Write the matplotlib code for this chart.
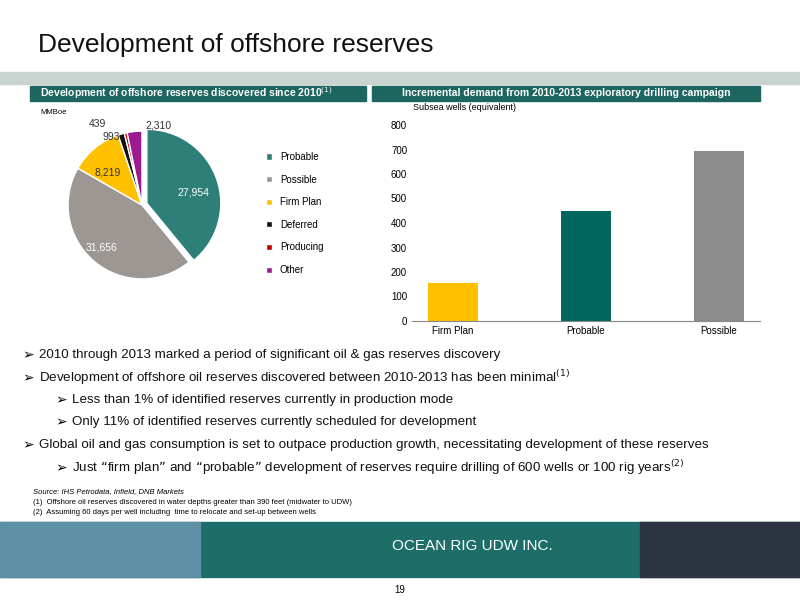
import matplotlib.pyplot as plt
from matplotlib.patches import Rectangle

plt.rcParams["font.family"] = ["Liberation Sans", "DejaVu Sans"]

# pie data (MMBoe)
pie_labels = ["Probable", "Possible", "Firm Plan", "Deferred", "Producing", "Other"]
pie_values = [27954, 31656, 8219, 993, 439, 2310]
pie_colors = ["#2f7f79", "#9d9794", "#ffc000", "#111111", "#c00000", "#9b1a8f"]

# bar data (subsea wells)
bar_cats = ["Firm Plan", "Probable", "Possible"]
bar_values = [155, 450, 695]
bar_colors = ["#ffc000", "#00665e", "#8c8c8c"]

W, H = 800, 600
fig = plt.figure(figsize=(8, 6), dpi=100)
fig.patch.set_facecolor("white")


def px(x, y, w, h):
    # pixel box (top-left origin) -> figure fraction
    return [x / W, 1 - (y + h) / H, w / W, h / H]


bg = fig.add_axes([0, 0, 1, 1])
bg.set_xlim(0, W)
bg.set_ylim(H, 0)
bg.axis("off")

bg.text(38, 45, "Development of offshore reserves", fontsize=19, color="#111111", va="center")
bg.add_patch(Rectangle((0, 72), 800, 12, color="#c9d3cf"))
bg.add_patch(Rectangle((30, 86), 336, 15, color="#1d6660"))
bg.add_patch(Rectangle((372, 86), 388, 15, color="#1d6660"))
bg.text(40, 93.5, "Development of offshore reserves discovered since 2010$^{(1)}$", fontsize=7.5,
        color="white", weight="bold", va="center")
bg.text(566, 93.5, "Incremental demand from 2010-2013 exploratory drilling campaign", fontsize=7.5,
        color="white", weight="bold", va="center", ha="center")
bg.text(40, 113, "MMBoe", fontsize=5.5, va="center")
bg.text(413, 108, "Subsea wells (equivalent)", fontsize=6.5, va="center")

bullets = [
    (22, 355, "2010 through 2013 marked a period of significant oil & gas reserves discovery"),
    (22, 378, "Development of offshore oil reserves discovered between 2010-2013 has been minimal$^{(1)}$"),
    (55, 400, "Less than 1% of identified reserves currently in production mode"),
    (55, 422, "Only 11% of identified reserves currently scheduled for development"),
    (22, 445, "Global oil and gas consumption is set to outpace production growth, necessitating development of these reserves"),
    (55, 468, "Just \u201cfirm plan\u201d and \u201cprobable\u201d development of reserves require drilling of 600 wells or 100 rig years$^{(2)}$"),
]
for x, y, t in bullets:
    bg.text(x, y, "\u27a2", fontsize=10, va="center", family="DejaVu Sans")
    bg.text(x + 17, y, t, fontsize=9.6, va="center", color="#111111")

bg.text(33, 492, "Source: IHS Petrodata, Infield, DNB Markets", fontsize=5.5, style="italic", va="center")
bg.text(33, 502, "(1)  Offshore oil reserves discovered in water depths greater than 390 feet (midwater to UDW)",
        fontsize=5.5, va="center")
bg.text(33, 512, "(2)  Assuming 60 days per well including  time to relocate and set-up between wells",
        fontsize=5.5, va="center")

bg.add_patch(Rectangle((0, 522), 800, 55, color="#1d6e68"))
bg.add_patch(Rectangle((0, 522), 200, 55, color="#5d8fa5"))
bg.add_patch(Rectangle((640, 522), 160, 55, color="#2b3440"))
bg.text(472, 546, "OCEAN RIG UDW INC.", fontsize=11, color="white", ha="center", va="center")
bg.text(400, 590, "19", fontsize=7, ha="center", va="center")

# pie
pax = fig.add_axes(px(57, 120, 170, 170))
explode = [0.07, 0, 0, 0, 0, 0]
wedges, texts = pax.pie(pie_values, colors=pie_colors, startangle=90, counterclock=False,
                        explode=explode, wedgeprops=dict(edgecolor="white", linewidth=1))
pax.set_aspect("equal")
pax.set_xlim(-1.15, 1.15)
pax.set_ylim(-1.15, 1.15)
lbl_pos = [(0.69, 0.17), (-0.55, -0.57), (-0.46, 0.44), (-0.42, 0.92), (-0.6, 1.1), (0.22, 1.08)]
lbl_col = ["white", "white", "#333333", "#333333", "#333333", "#333333"]
for v, (lx, ly), c in zip(pie_values, lbl_pos, lbl_col):
    pax.text(lx, ly, f"{v:,}", fontsize=7.5, color=c, ha="center", va="center")
pax.legend(wedges, pie_labels, loc="center left", bbox_to_anchor=(1.18, 0.45), frameon=False,
           fontsize=7, handlelength=0.6, handleheight=0.6, labelspacing=1.3)

# bars
bax = fig.add_axes(px(412, 125, 348, 196))
bax.bar(bar_cats, bar_values, color=bar_colors, width=0.38)
bax.set_ylim(0, 800)
bax.set_yticks(range(0, 801, 100))
bax.tick_params(labelsize=7, length=0)
for s in ["top", "right", "left"]:
    bax.spines[s].set_visible(False)
bax.spines["bottom"].set_color("#888888")

fig.savefig("out.png", dpi=100)
